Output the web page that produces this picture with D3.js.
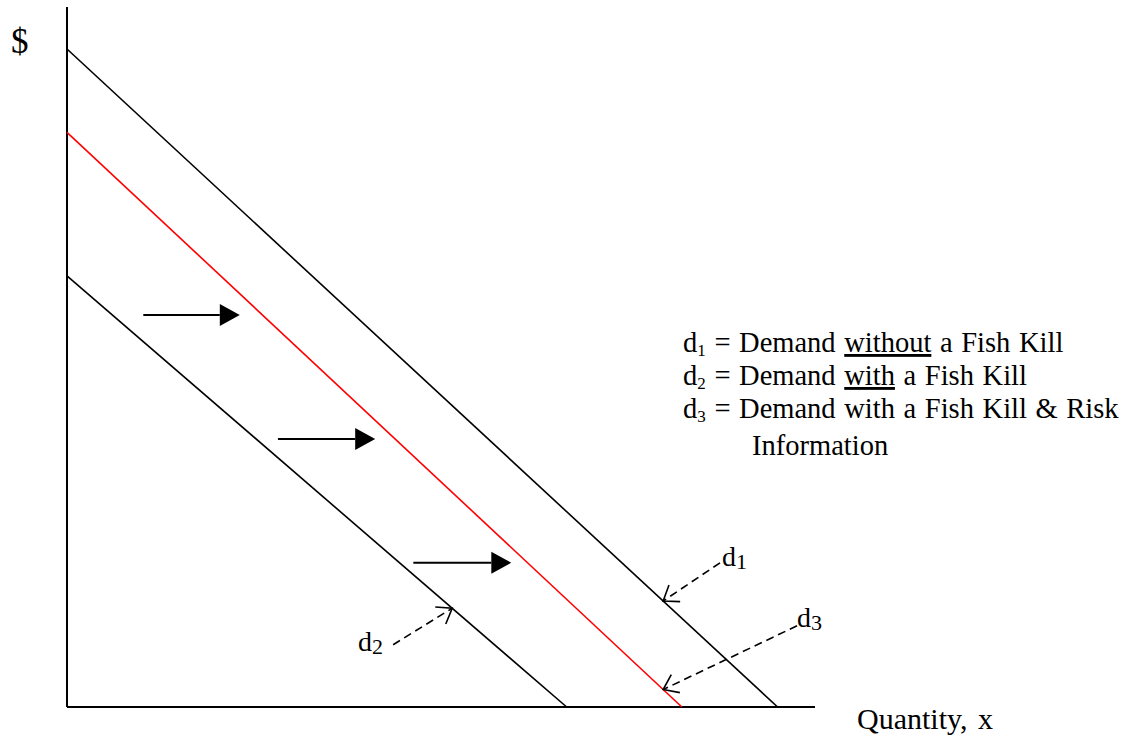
<!DOCTYPE html>
<html>
<head>
<meta charset="utf-8">
<script src="https://cdn.jsdelivr.net/npm/d3@7"></script>
<style>
  html, body { margin: 0; padding: 0; background: #fff; }
  svg { display: block; }
  text { font-family: "Liberation Serif", "Times New Roman", serif; fill: #000; }
</style>
</head>
<body>
<svg id="chart" width="1138" height="740"></svg>
<script>
// Demand curves: straight lines from the price intercept to the quantity intercept
const curveNames = ["d1", "d3", "d2"];
const priceIntercepts = [94, 82.1, 61.6];
const quantityIntercepts = [95, 82.2, 66.8];
const curveColors = ["#000", "#ff0000", "#000"];

// Shift arrows (quantity start, quantity end, price level)
const shiftFrom = [10.2, 28.2, 46.3];
const shiftTo = [23.1, 41.2, 59.4];
const shiftPrice = [56, 38.3, 20.6];

// Dashed pointers from each curve label to its curve
const labelNames = ["d1", "d3", "d2"];
const labelQuantity = [87.3, 97.6, 43.6];
const labelPrice = [20.6, 11.6, 8.9];
const tipQuantity = [79.7, 79.7, 51.5];
const tipCurve = [0, 1, 2];

// Legend lines
const legendRows = [
  { sub: "1", parts: [["= Demand ", false], ["without", true], [" a Fish Kill", false]] },
  { sub: "2", parts: [["= Demand ", false], ["with", true], [" a Fish Kill", false]] },
  { sub: "3", parts: [["= Demand with a Fish Kill & Risk", false]] }
];
const legendContinuation = "Information";

const svg = d3.select("#chart");
const x = d3.scaleLinear().domain([0, 100]).range([67, 815]);
const y = d3.scaleLinear().domain([0, 100]).range([707, 7]);

// Axes
svg.append("line").attr("x1", x(0)).attr("y1", y(100)).attr("x2", x(0)).attr("y2", y(0))
  .attr("stroke", "#000").attr("stroke-width", 2);
svg.append("line").attr("x1", x(0)).attr("y1", y(0)).attr("x2", x(100)).attr("y2", y(0))
  .attr("stroke", "#000").attr("stroke-width", 2);

svg.append("text").attr("x", 11).attr("y", 53).attr("font-size", 35).text("$");
svg.append("text").attr("x", 857).attr("y", 729).attr("font-size", 30)
  .attr("word-spacing", 3).text("Quantity, x");

// Demand curves
curveNames.forEach((n, i) => {
  svg.append("line")
    .attr("x1", x(0)).attr("y1", y(priceIntercepts[i]))
    .attr("x2", x(quantityIntercepts[i])).attr("y2", y(0))
    .attr("stroke", curveColors[i]).attr("stroke-width", 1.6);
});

// Shift arrows
shiftFrom.forEach((q0, i) => {
  const x0 = x(q0), x1 = x(shiftTo[i]), yy = y(shiftPrice[i]);
  const headLen = 20, headHalf = 11;
  svg.append("line").attr("x1", x0).attr("y1", yy).attr("x2", x1 - headLen).attr("y2", yy)
    .attr("stroke", "#000").attr("stroke-width", 2);
  svg.append("path")
    .attr("d", `M${x1},${yy}L${x1 - headLen},${yy - headHalf}L${x1 - headLen},${yy + headHalf}Z`)
    .attr("fill", "#000");
});

// Price on a curve at a given quantity
function priceOn(ci, q) {
  return priceIntercepts[ci] * (1 - q / quantityIntercepts[ci]);
}

// Dashed pointers with open arrowheads
labelNames.forEach((n, i) => {
  const sx = x(labelQuantity[i]), sy = y(labelPrice[i]);
  const tx = x(tipQuantity[i]), ty = y(priceOn(tipCurve[i], tipQuantity[i]));
  svg.append("line").attr("x1", sx).attr("y1", sy).attr("x2", tx).attr("y2", ty)
    .attr("stroke", "#000").attr("stroke-width", 1.6).attr("stroke-dasharray", "8,5");
  const ang = Math.atan2(sy - ty, sx - tx);
  const arm = 17, spread = Math.PI / 5;
  const a1 = [tx + arm * Math.cos(ang - spread), ty + arm * Math.sin(ang - spread)];
  const a2 = [tx + arm * Math.cos(ang + spread), ty + arm * Math.sin(ang + spread)];
  svg.append("path")
    .attr("d", `M${a1[0]},${a1[1]}L${tx},${ty}L${a2[0]},${a2[1]}`)
    .attr("fill", "none").attr("stroke", "#000").attr("stroke-width", 1.6);
});

// Curve labels
const labelPos = [[722, 566], [797, 627], [358, 651]];
labelNames.forEach((n, i) => {
  const t = svg.append("text").attr("x", labelPos[i][0]).attr("y", labelPos[i][1]).attr("font-size", 28);
  t.append("tspan").text("d");
  t.append("tspan").attr("dy", 3).attr("font-size", 22).text(n.slice(1));
});

// Legend
const legendX = 683, legendY0 = 352, legendStep = 33, legendFont = 28.5;
legendRows.forEach((row, i) => {
  const yy = legendY0 + i * legendStep;
  const t = svg.append("text").attr("x", legendX).attr("y", yy).attr("font-size", legendFont)
    .attr("word-spacing", 1.5).attr("xml:space", "preserve");
  t.append("tspan").text("d");
  t.append("tspan").attr("dy", 4).attr("font-size", 17).text(row.sub);
  t.append("tspan").attr("dy", -4).text(" ");
  row.parts.forEach(([s, u]) => {
    const sp = t.append("tspan").text(s);
    if (u) sp.attr("text-decoration", "underline");
  });
});
svg.append("text").attr("x", 752).attr("y", legendY0 + 2 * legendStep + 37)
  .attr("font-size", legendFont).text(legendContinuation);
</script>
</body>
</html>
